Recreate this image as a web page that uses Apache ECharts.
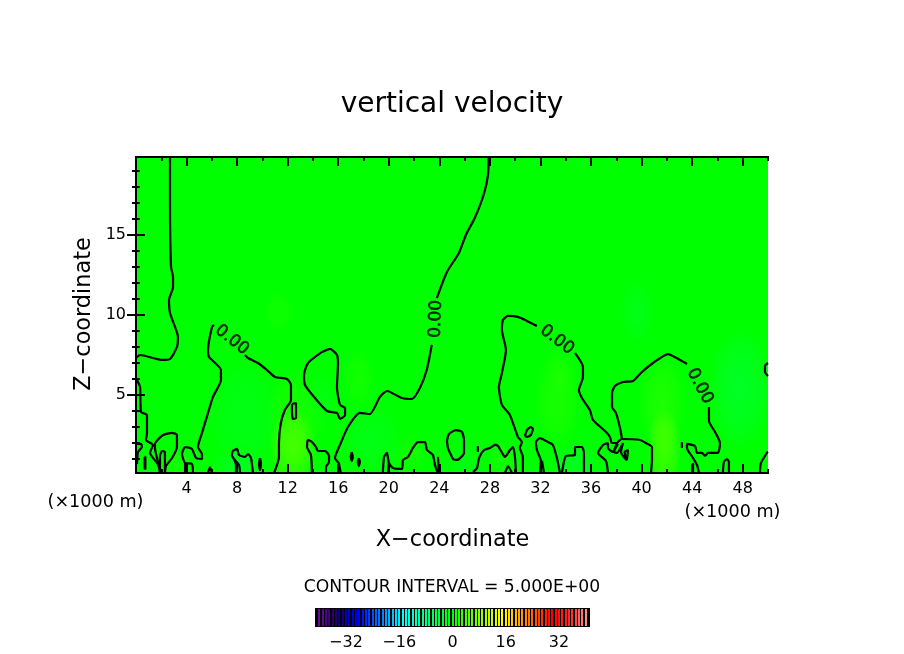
<!DOCTYPE html>
<html><head><meta charset="utf-8">
<style>html,body{margin:0;padding:0;background:#fff}#c{width:904px;height:654px}</style>
<script src="https://cdn.jsdelivr.net/npm/echarts@6/dist/echarts.min.js"></script>
</head><body><div id="c"></div>
<script>
// ---- tick values (km-scale x, km-scale z) ----
const xMajor = [4,8,12,16,20,24,28,32,36,40,44,48];
const xMinor = [2,6,10,14,18,22,26,30,34,38,42,46,50];
const zMajor = [5,10,15];
const zMinor = [1,2,3,4,6,7,8,9,11,12,13,14,16,17,18,19];
const barTicks = [-32,-16,0,16,32];
const barLevels = [-40,-39,-38,-37,-36,-35,-34,-33,-32,-31,-30,-29,-28,-27,-26,-25,-24,-23,-22,-21,-20,-19,-18,-17,-16,-15,-14,-13,-12,-11,-10,-9,-8,-7,-6,-5,-4,-3,-2,-1,0,1,2,3,4,5,6,7,8,9,10,11,12,13,14,15,16,17,18,19,20,21,22,23,24,25,26,27,28,29,30,31,32,33,34,35,36,37,38,39,40];

// ---- weak velocity patches: [x, z, half-width x, half-height z, w] ----
const warmCool = [
 [12.4,1.6,1.9,2.6,2.6],[12.6,3.6,2.4,3.2,0.9],[41.8,1.6,1.4,2.6,2.6],[41.6,4.6,1.9,3.2,1.2],
 [11.3,10.2,1.2,1.3,0.7],[17.6,6.0,1.3,1.9,0.8],[33.3,4.6,1.9,3.0,1.0],[33.6,6.8,1.3,1.8,0.5],
 [35.5,1.4,1.4,1.8,-0.3],[8.6,3.6,3.0,4.0,-0.9],[47.8,5.4,2.6,4.0,-1.6],[39.6,10.2,1.4,2.2,-0.9],
 [14.7,4.8,1.0,1.8,-0.6],[18.6,2.2,2.6,2.4,-0.9],[34.6,0.8,1.8,1.2,-1.2],[8.0,0.6,2.2,1.0,-1.2],
 [3.4,0.6,1.5,1.0,0.8],[26.0,0.8,1.6,1.2,-0.7],[21.8,1.4,1.4,1.2,0.7],[29.0,1.0,1.2,1.2,0.8]
];

// ---- zero contour, [x, z] ----
const cA = [[2.69,19.88],[2.69,17.06],[2.77,13.0],[2.93,12.38],[2.93,11.75],[2.61,10.94],[2.69,10.13],[3.09,9.25],[3.32,8.63],[3.24,8.0],[2.69,7.25],[2.06,7.19],[0.32,7.5],[0,7.31]];
const cB = [[0.08,5.94],[0.32,5.5],[0.4,3.94],[0.87,3.75],[0.87,2.63],[0.79,2.19],[1.34,1.88],[1.11,1.38],[1.66,0.75],[2.06,0.125]];
const cC = [[1.9,0.125],[1.74,0.81],[1.5,1.69],[1.5,1.94],[2.14,2.5],[2.85,2.63],[3.24,2.5],[3.24,1.75],[2.85,1.06],[2.37,0.56],[2.29,0.125]];
const cC2 = [[1.9,0.125],[1.9,1.19],[2.06,1.5],[2.29,1.44],[2.29,0.125]];
const cD = [[0,1.94],[0.4,1.94],[0.47,1.75],[0.16,1.44],[0.08,0.69]];
const cE = [[0.68,1.13],[0.74,1.13],[0.74,0.38],[0.68,0.38],[0.68,1.13]];
const cG = [[4.51,0.125],[4.43,0.69],[3.88,0.75],[3.64,1.31],[3.88,1.75],[4.43,1.63],[4.75,1.06],[5.22,1.0],[5.22,1.31],[4.9,1.75],[5.22,2.63],[5.7,3.88],[6.09,4.88],[6.72,5.94],[6.72,6.56],[5.77,7.38],[5.7,7.81],[6.01,9.25],[6.17,9.38]];
const cG2 = [[3.88,0.125],[3.88,0.75]];
const cH = [[8.62,7.5],[8.86,7.31],[9.65,7.0],[10.36,6.56],[10.99,6.13],[11.94,6.0],[12.26,5.63],[12.26,4.69],[11.78,4.06],[11.46,3.25],[11.31,2.0],[11.31,1.13],[10.92,0.125]];
const cI = [[12.34,4.44],[12.66,4.5],[12.66,3.56],[12.42,3.5],[12.34,3.94],[12.34,4.44]];
const cJ = [[5.7,0.125],[5.85,0.5],[6.01,0.125]];
const cK = [[8.23,0.125],[8.15,0.63],[7.75,1.0],[7.59,1.25],[7.67,1.5],[7.99,1.63],[8.15,1.25],[8.62,1.13],[8.86,1.31],[9.1,1.06],[9.18,0.63],[9.26,0.125]];
const cK2 = [[7.91,0.125],[7.91,0.63],[7.75,1.0]];
const cL = [[9.81,1.06],[9.89,0.69],[9.81,0.31],[9.73,0.69],[9.81,1.06]];
const cN = [[13.92,0.125],[13.84,1.25],[13.53,1.75],[13.61,2.19],[13.92,2.06],[14.24,1.75],[14.4,1.5],[14.95,1.5],[15.27,1.19],[15.27,0.81],[15.03,0.5],[15.03,0.125]];
const cO = [[14.72,7.69],[15.35,7.88],[15.9,7.5],[15.98,7.0],[15.9,5.5],[16.14,4.38],[16.54,4.19],[16.54,3.75],[16.14,3.5],[15.9,3.88],[15.11,4.0],[14.16,4.81],[13.37,5.63],[13.29,6.25],[13.61,7.0],[14.72,7.69]];
const cP = [[15.98,0.125],[16.06,0.69],[15.74,1.06],[16.14,1.88],[16.77,3.0],[17.72,3.88],[18.51,3.81],[19.3,4.88],[19.85,5.25],[21.04,4.81],[21.83,4.75],[22.46,5.44],[23.0,6.56],[23.4,8.13]];
const cP2 = [[23.8,11.06],[24.6,12.69],[25.55,13.88],[26.1,15.0],[26.8,16.06],[27.5,17.5],[27.85,18.75],[27.9,19.88]];
const cQ = [[16.06,0.69],[16.2,0.125]];
const cE1 = [[17.07,1.44],[17.15,1.13],[17.07,0.88],[16.99,1.13],[17.07,1.44]];
const cE2 = [[17.63,1.06],[17.71,0.81],[17.63,0.56],[17.55,0.81],[17.63,1.06]];
const cR = [[19.53,0.125],[19.62,1.13],[19.85,1.38],[20.01,0.75],[20.33,0.44],[21.04,0.38],[21.12,0.94],[21.52,1.13],[21.91,1.69],[22.31,2.06],[22.86,2.06],[23.02,1.56],[23.49,1.25],[23.65,0.63],[23.89,0.125]];
const cR2 = [[19.93,0.125],[20.01,0.75]];
const cS = [[23.89,1.13],[23.97,0.125]];
const cT = [[24.6,2.13],[24.76,2.56],[25.31,2.81],[25.79,2.69],[25.95,2.19],[25.95,1.38],[25.39,0.94],[25.08,1.0],[24.92,1.25],[24.68,1.69],[24.6,2.13]];
const cU = [[26.66,0.19],[26.98,0.44],[27.14,1.06],[27.53,1.56],[28.0,1.69],[28.4,1.88],[28.64,1.81],[28.96,1.38],[29.19,1.13],[29.59,1.56],[29.83,1.75],[29.98,1.13],[30.06,0.125]];
const cU2 = [[27.05,1.81],[27.05,1.44]];
const cU3 = [[29.19,0.125],[29.43,0.56],[29.74,0.125]];
const cV = [[31.72,9.31],[30.93,9.63],[30.21,9.88],[29.43,9.94],[29.03,9.69],[28.95,9.06],[29.27,7.81],[28.95,6.38],[28.71,5.5],[28.95,4.38],[29.58,3.75],[30.21,2.38],[30.53,2.06],[30.37,1.69],[30.61,1.13],[30.61,0.125]];
const cW = [[30.77,2.44],[30.93,2.81],[31.24,3.0],[31.4,2.88],[31.24,2.5],[30.93,2.38],[30.77,2.44]];
const cX = [[34.73,7.63],[35.36,6.75],[35.36,6.13],[35.04,5.31],[35.28,4.81],[35.91,4.06],[36.15,3.44],[37.26,2.63],[37.49,2.38],[37.65,2.0],[37.97,2.0]];
const cY = [[31.96,0.125],[32.03,0.88],[31.72,1.56],[31.64,2.06],[31.96,2.31],[32.59,2.06],[32.98,1.88],[33.3,1.06],[33.54,0.125]];
const cY2 = [[33.7,0.125],[34.01,1.19],[34.73,1.25],[34.73,1.75],[35.28,1.75],[35.44,1.38],[35.44,0.125]];
const cY3 = [[32.28,0.125],[32.12,0.88]];
const cZ = [[37.34,0.125],[37.18,0.88],[36.55,1.38],[36.95,1.88],[37.34,2.0],[37.34,1.69],[37.73,1.44],[38.05,2.0],[38.45,2.25],[39.87,2.19],[40.34,2.0],[40.82,1.75],[40.82,0.94],[40.74,0.125]];
const cZ3 = [[38.13,1.94],[37.81,1.44],[38.05,1.38],[38.45,1.88]];
const cZ4 = [[38.53,2.0],[38.37,1.44],[38.66,1.06],[38.84,0.94],[38.92,1.56],[38.66,1.44],[38.76,1.06],[38.6,1.25]];
const cAP = [[38.45,2.25],[38.29,2.94],[37.97,3.88],[37.66,4.25],[37.66,5.13],[37.89,5.56],[38.53,5.81],[39.32,5.88],[40.03,6.44],[40.9,7.0],[42.09,7.56],[43.04,7.19],[43.59,6.94]];
const cAA = [[45.33,4.25],[45.33,3.38],[45.81,2.69],[46.2,2.0],[46.04,1.38],[45.25,1.38],[45.02,1.19],[44.78,1.38],[44.38,1.38],[44.23,1.81],[43.59,1.94],[43.59,1.69],[44.07,1.06],[44.38,0.63],[44.54,0.125]];
const cAA2 = [[44.07,0.125],[44.07,0.75]];
const cAA3 = [[43.19,2.06],[43.19,1.69]];
const cAB = [[46.43,0.125],[46.51,0.81],[46.75,1.0],[46.91,0.81],[46.91,0.125]];
const cAC = [[49.36,0.125],[49.44,0.75],[49.91,1.38],[50,1.44]];
const cAD = [[50,7.0],[49.76,6.81],[49.76,6.44],[50,6.19]];
const contours = [cA,cB,cC,cC2,cD,cE,cG,cG2,cH,cI,cJ,cK,cK2,cL,cN,cO,cP,cP2,cQ,cE1,cE2,cR,cR2,cS,cT,cU,cU2,cU3,cV,cW,cX,cY,cY2,cY3,cZ,cZ3,cZ4,cAP,cAA,cAA2,cAA3,cAB,cAC,cAD];

const labelPoints = [[7.59,8.44],[23.73,9.75],[33.3,8.44],[44.6,5.56]];
const labelAngles = [-38,88,-37,-62];

// ---- colour bar palette stops ----
const stops = [[-40,'#6a0a9a'],[-37,'#3c0078'],[-34,'#100070'],[-30,'#0000e0'],[-28,'#0000ff'],[-15,'#00ffff'],[0,'#00ff00'],[15,'#ffff00'],[30,'#ff0000'],[36,'#ff3030'],[40,'#ff8c8c']];
function paletteAt(v){
  for(let i=1;i<stops.length;i++){
    if(v<=stops[i][0]){
      const t=(v-stops[i-1][0])/(stops[i][0]-stops[i-1][0]);
      return echarts.color.lerp(t,[stops[i-1][1],stops[i][1]]);
    }
  }
  return stops[stops.length-1][1];
}

const FONT='"DejaVu Sans"';
const chart = echarts.init(document.getElementById('c'),null,{renderer:'canvas'});
const G0={left:136,right:136,top:157,bottom:181};
const line={show:true,lineStyle:{color:'#000',width:2}};
const off={show:false};
const mkX=(pos,vals,len,label)=>({type:'value',gridIndex:0,position:pos,min:0,max:50,z:10,splitLine:off,
  axisLine:line,axisTick:{show:true,inside:true,length:len,customValues:vals,lineStyle:{color:'#000',width:2}},
  axisLabel:label?{show:true,customValues:vals,color:'#000',fontFamily:FONT,fontSize:16,margin:8}:off});
const mkY=(pos,vals,len,label)=>({type:'value',gridIndex:0,position:pos,min:0.125,max:19.875,z:10,splitLine:off,
  axisLine:line,axisTick:{show:true,inside:true,length:len,customValues:vals,lineStyle:{color:'#000',width:2}},
  axisLabel:label?{show:true,customValues:vals,color:'#000',fontFamily:FONT,fontSize:16,margin:10}:off});

const text=(t,x,y,size,extra)=>Object.assign({type:'text',x,y,silent:true,z:20,style:{text:t,fontFamily:FONT,fontSize:size,fill:'#000',align:'center',verticalAlign:'middle'}},extra||{});

chart.setOption({
 animation:false,
 backgroundColor:'#fff',
 grid:[
  Object.assign({show:true,backgroundColor:'#00ff00',borderWidth:0},G0),
  {show:true,left:316,width:273,top:609,height:17,backgroundColor:'#000',borderColor:'#000',borderWidth:2}
 ],
 xAxis:[
  mkX('bottom',xMajor,9,true),mkX('bottom',xMinor,4,false),mkX('top',xMajor,9,false),mkX('top',xMinor,4,false),
  {type:'value',gridIndex:1,min:-41,max:41,axisLine:off,axisTick:off,splitLine:off,
   axisLabel:{show:true,customValues:barTicks,color:'#000',fontFamily:FONT,fontSize:16,margin:9,formatter:v=>String(v).replace('-','\u2212')}}
 ],
 yAxis:[
  mkY('left',zMajor,9,true),mkY('left',zMinor,4,false),mkY('right',zMajor,9,false),mkY('right',zMinor,4,false),
  {type:'value',gridIndex:1,min:0,max:1,show:false}
 ],
 graphic:[
  text('vertical velocity',452,105,28),
  text('Z\u2212coordinate',84,314,22.4,{rotation:Math.PI/2}),
  text('X\u2212coordinate',452.5,540,22.4),
  text('(\u00d71000 m)',95.5,502,17.6),
  text('(\u00d71000 m)',732.5,512,17.6),
  text('CONTOUR INTERVAL = 5.000E+00',452,588,17.2)
 ],
 series:[
  {type:'custom',xAxisIndex:0,yAxisIndex:0,clip:true,z:1,silent:true,data:warmCool,
   renderItem:(p,api)=>{
     const c=api.coord([api.value(0),api.value(1)]);
     const s=api.size([api.value(2),api.value(3)]);
     const w=api.value(4);
     const rgb=w>0?'255,255,0':'0,255,255';
     const a=Math.abs(w)*0.095;
     return {type:'circle',x:c[0],y:c[1],scaleX:s[0],scaleY:s[1],shape:{cx:0,cy:0,r:1},
       style:{fill:new echarts.graphic.RadialGradient(0.5,0.5,0.5,[
         {offset:0,color:`rgba(${rgb},${a})`},{offset:0.6,color:`rgba(${rgb},${a*0.6})`},{offset:1,color:`rgba(${rgb},0)`}])}};
   }},
  ...contours.map(c=>({type:'line',xAxisIndex:0,yAxisIndex:0,z:3,silent:true,data:c,symbol:'none',smooth:0.2,
     lineStyle:{color:'#000',width:2.2}})),
  {type:'scatter',xAxisIndex:0,yAxisIndex:0,z:4,silent:true,symbolSize:0,
   data:labelPoints.map((p,i)=>({value:p,label:{rotate:labelAngles[i]}})),
   label:{show:true,position:'inside',formatter:'0.00',color:'#000',fontFamily:FONT,fontSize:17,align:'center',verticalAlign:'middle',textBorderColor:'#000',textBorderWidth:0.6}},
  {type:'custom',xAxisIndex:4,yAxisIndex:4,silent:true,clip:false,z:3,
   data:barLevels.map(v=>[v,1]),
   encode:{x:0,y:1},
   renderItem:(p,api)=>{
     const v=api.value(0);
     const a=api.coord([v,1]), b=api.coord([v,0]);
     return {type:'rect',shape:{x:Math.round(a[0]-1),y:a[1],width:2,height:b[1]-a[1]},style:{fill:paletteAt(v)}};
   }}
 ]
});
</script></body></html>
